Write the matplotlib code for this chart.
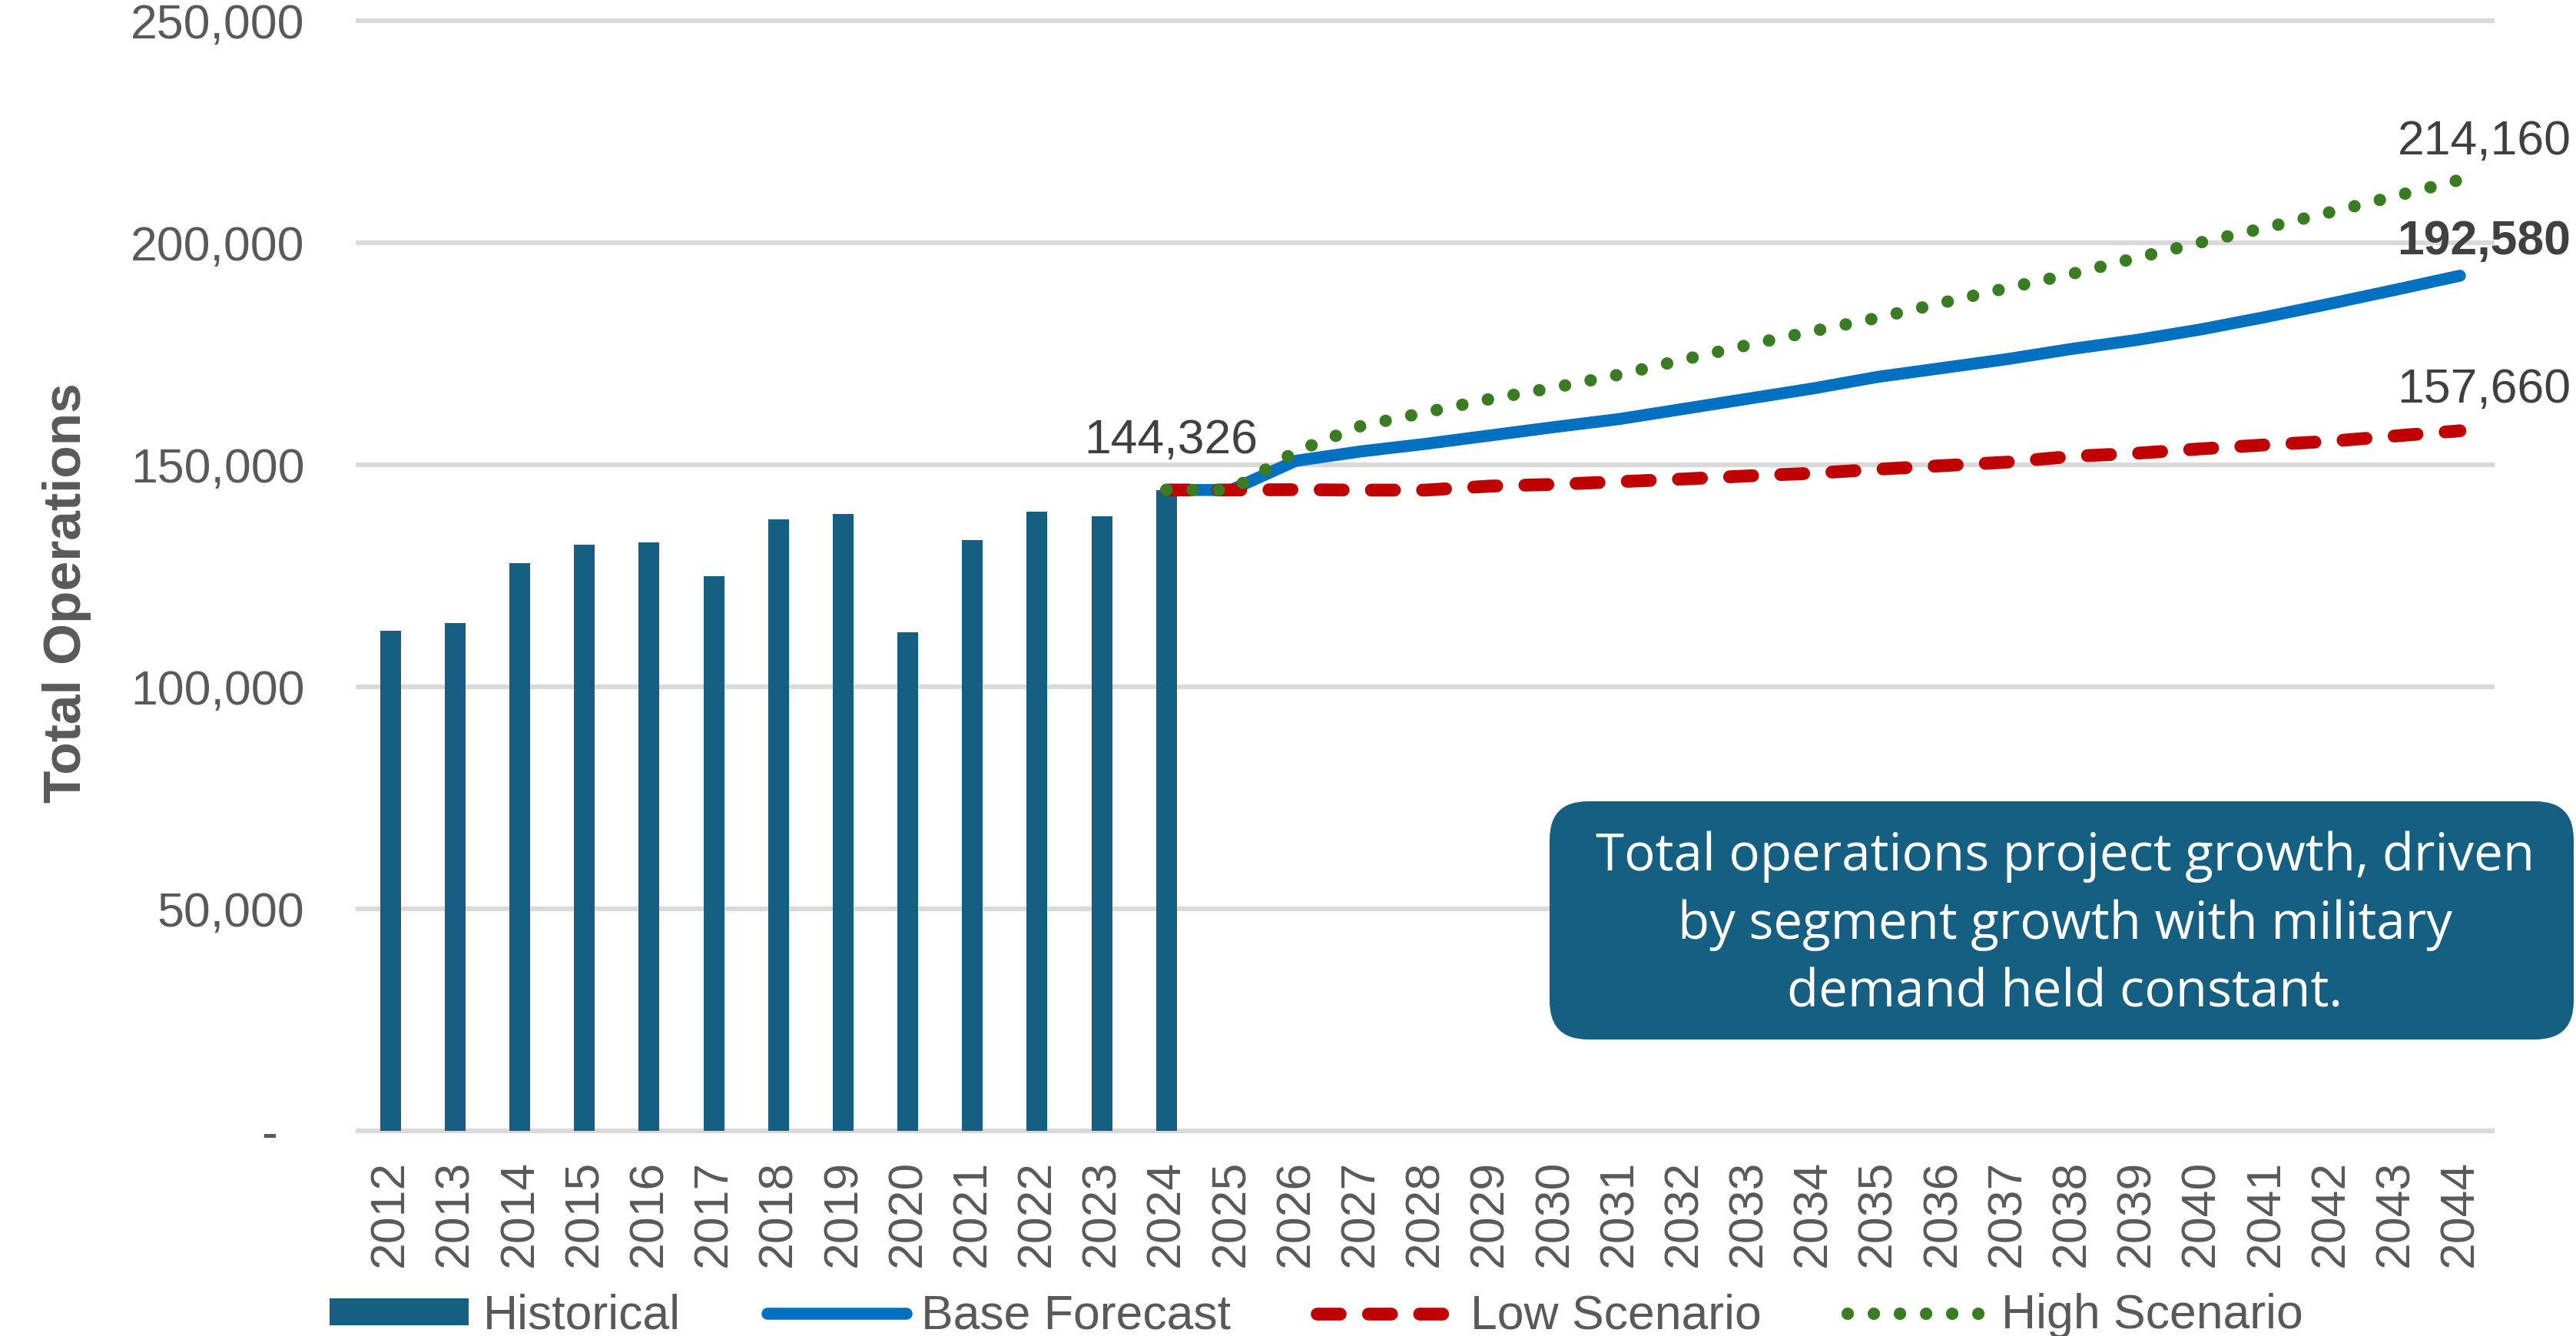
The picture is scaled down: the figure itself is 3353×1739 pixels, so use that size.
import matplotlib
matplotlib.use("Agg")
import matplotlib.pyplot as plt
from matplotlib.patches import FancyBboxPatch
from matplotlib.ticker import FuncFormatter

years = list(range(2012, 2045))

hist_years = years[:13]
hist_ops = [112700, 114400, 127800, 132000, 132500, 125000, 137700,
            138900, 112200, 133000, 139400, 138400, 144326]

fc_years = years[12:]  # 2024 .. 2044
base_fc = [144326, 144326, 150900, 153000, 154700, 156600, 158500, 160300,
           162600, 164900, 167200, 169800, 171800, 173800, 176100, 178100,
           180500, 183300, 186300, 189400, 192580]
low_fc = [144326, 144326, 144400, 144300, 144300, 145200, 145600, 146200,
          146800, 147500, 148100, 149000, 149800, 150600, 151900, 152600,
          153600, 154500, 155300, 156500, 157660]
high_fc = [144326, 144326, 153000, 158700, 161800, 164800, 167400, 170300,
           173700, 177000, 180100, 183100, 186500, 189800, 193000, 196600,
           200100, 203400, 206900, 210500, 214160]

note = ("Total operations project growth, driven\n"
        "by segment growth with military\n"
        "demand held constant.")

TEAL = "#156082"
BLUE = "#0070C0"
RED = "#C00000"
GREEN = "#3A7C22"
GREY = "#595959"
GRID = "#D9D9D9"

plt.rcParams["font.family"] = ["Liberation Sans", "DejaVu Sans"]

fig = plt.figure(figsize=(16.765, 8.695), dpi=200)
ax = fig.add_axes([0.139, 0.1535, 0.8285, 0.831])

pos = {y: i for i, y in enumerate(years)}
hx = [pos[y] for y in hist_years]
fx = [pos[y] for y in fc_years]

h_bar = ax.bar(hx, hist_ops, width=0.32, color=TEAL, zorder=2,
               label="Historical")
h_base, = ax.plot(fx, base_fc, color=BLUE, lw=5.6, solid_capstyle="round",
                  zorder=3, label="Base Forecast")
h_low, = ax.plot(fx, low_fc, color=RED, lw=6.0, dashes=(1.8, 2.2),
                 dash_capstyle="round", zorder=4, label="Low Scenario")
h_high, = ax.plot(fx, high_fc, color=GREEN, lw=5.8, dashes=(0.01, 2.1),
                  dash_capstyle="round", zorder=5, label="High Scenario")

ax.set_xlim(-0.5, len(years) - 0.5)
ax.set_ylim(0, 250000)
ax.set_xticks(range(len(years)))
ax.set_xticklabels([str(y) for y in years], rotation=90)
ax.set_yticks(range(0, 250001, 50000))
ax.yaxis.set_major_formatter(
    FuncFormatter(lambda v, p: "-\u2007" if v == 0 else f"{int(v):,}"))
ax.tick_params(axis="both", length=0, labelsize=22.5, labelcolor=GREY)
ax.tick_params(axis="x", pad=13.5)
ax.tick_params(axis="y", pad=25)

for s in ax.spines.values():
    s.set_visible(False)
ax.yaxis.grid(True, color=GRID, lw=2.2, zorder=0)
ax.set_axisbelow(True)
for gl in ax.get_ygridlines():
    gl.set_clip_on(False)

ax.set_ylabel("Total Operations", fontsize=25, fontweight="bold", color=GREY)
ax.yaxis.set_label_coords(-0.125, 0.485)

# end-point labels
lab = dict(fontsize=22.5, color="#404040", textcoords="offset points")
ax.annotate(f"{hist_ops[-1]:,}", (pos[2024], hist_ops[-1]), xytext=(2, 23),
            ha="center", va="center", **lab)
ax.annotate(f"{high_fc[-1]:,}", (pos[2044], high_fc[-1]), xytext=(52, 18),
            ha="right", va="center", **lab)
ax.annotate(f"{base_fc[-1]:,}", (pos[2044], base_fc[-1]), xytext=(52, 16),
            ha="right", va="center", fontweight="bold", **lab)
ax.annotate(f"{low_fc[-1]:,}", (pos[2044], low_fc[-1]), xytext=(52, 19),
            ha="right", va="center", **lab)

# callout box
box = FancyBboxPatch((10.085, 1.93), 6.665, 1.55,
                     boxstyle="round,pad=0,rounding_size=0.25",
                     transform=fig.dpi_scale_trans, facecolor=TEAL,
                     edgecolor="none", zorder=10)
fig.patches.append(box)
fig.text(13.44 / 16.765, 2.675 / 8.695, note, ha="center", va="center",
         color="white", fontsize=24.2, family=["Open Sans", "DejaVu Sans"],
         linespacing=1.42, zorder=11)

ax.legend(handles=[h_bar, h_base, h_low, h_high],
          loc="center left", bbox_to_anchor=(0.128, 0.015),
          bbox_transform=fig.transFigure, ncol=4, frameon=False,
          fontsize=22.5, labelcolor=GREY, handlelength=2.9,
          handleheight=0.48, handletextpad=0.3, columnspacing=1.8,
          borderpad=0, borderaxespad=0)

fig.savefig("out.png", dpi=200)
